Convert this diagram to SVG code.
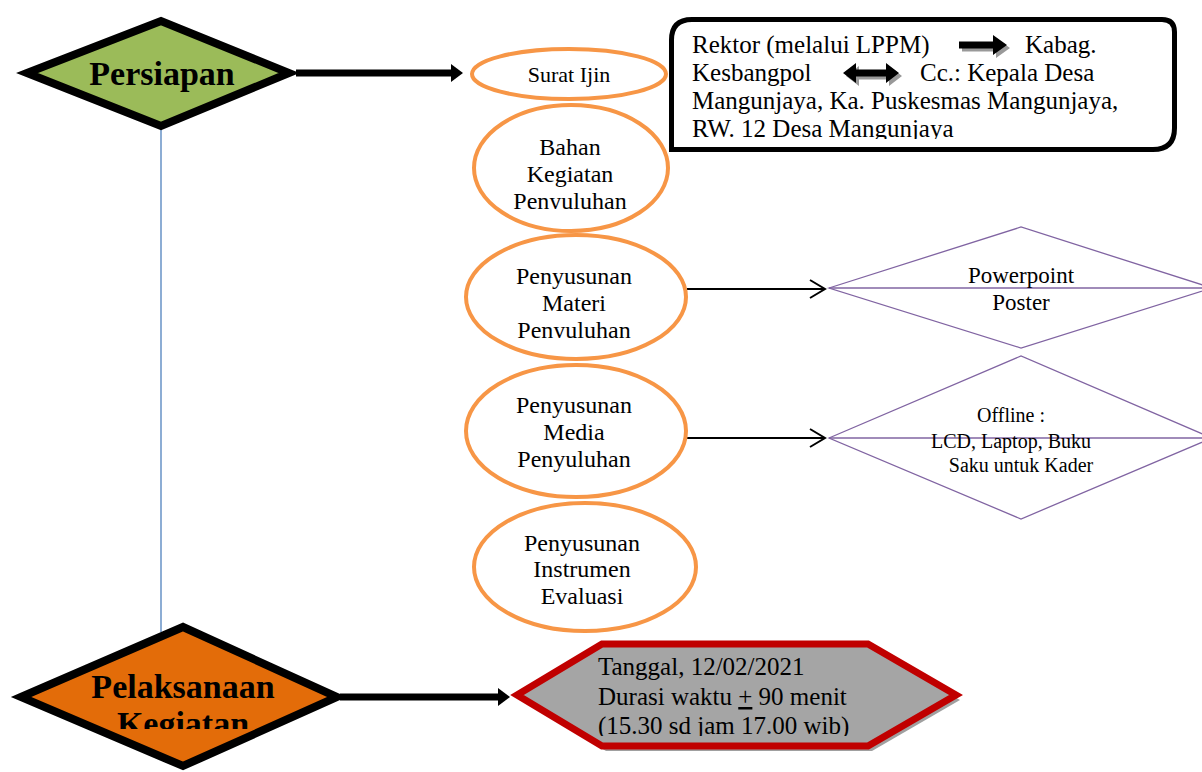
<svg xmlns="http://www.w3.org/2000/svg" width="1202" height="772" viewBox="0 0 1202 772">
<style>
.t{font-family:"Liberation Serif","Times New Roman",serif;fill:#000}
.ell{fill:#fff;stroke:#F79646;stroke-width:4}
.el{font-size:24px;text-anchor:middle}
.pur{fill:#fff;stroke:#8064A2;stroke-width:1.3}
.thick{stroke:#000;stroke-width:7;fill:none}
.thin{stroke:#000;stroke-width:2;fill:none}
.big{font-weight:bold;font-size:34px;text-anchor:middle}
</style>
<defs>
<clipPath id="cBox"><rect x="669" y="17" width="510" height="122"/></clipPath>
<clipPath id="cBahan"><rect x="470" y="100" width="210" height="109"/></clipPath>
<clipPath id="cMateri"><rect x="460" y="230" width="240" height="108"/></clipPath>
<clipPath id="cInst"><rect x="470" y="500" width="240" height="104"/></clipPath>
<clipPath id="cPel"><rect x="0" y="620" width="360" height="109"/></clipPath>
<clipPath id="cHex"><rect x="500" y="630" width="480" height="106"/></clipPath>
</defs>
<rect width="1202" height="772" fill="#fff"/>

<g id="connectors">
<line x1="161" y1="130" x2="161" y2="632" stroke="#4F81BD" stroke-width="1.3"/>
<line class="thick" x1="296" y1="73" x2="453" y2="73"/>
<polygon points="451,64 463,73 451,82" fill="#000"/>
<line class="thick" x1="340" y1="697" x2="500" y2="697"/>
<polygon points="498,688 510,697 498,706" fill="#000"/>
<line class="thin" x1="687" y1="289" x2="825" y2="289"/>
<polyline class="thin" points="810,280 825,289 810,298"/>
<line class="thin" x1="687" y1="438" x2="825" y2="438"/>
<polyline class="thin" points="810,429 825,438 810,447"/>
</g>

<g id="persiapan">
<polygon points="27,73 161,21 289,73 161,126" fill="#9BBB59" stroke="#000" stroke-width="8"/>
<text class="t big" x="162" y="85">Persiapan</text>
</g>

<g id="pelaksanaan">
<polygon points="21,697 183,627 337,697 183,766" fill="#E36C09" stroke="#000" stroke-width="8"/>
<g clip-path="url(#cPel)">
<text class="t big" x="183" y="698">Pelaksanaan</text>
<text class="t big" x="183" y="735">Kegiatan</text>
</g>
</g>

<g id="surat-ijin">
<ellipse class="ell" cx="569" cy="74" rx="97" ry="25"/>
<text class="t" x="569" y="82" font-size="22" text-anchor="middle">Surat Ijin</text>
</g>

<g id="bahan">
<ellipse class="ell" cx="571" cy="168" rx="97" ry="63"/>
<g clip-path="url(#cBahan)">
<text class="t el" x="570" y="155">Bahan</text>
<text class="t el" x="570" y="182">Kegiatan</text>
<text class="t el" x="570" y="209">Penyuluhan</text>
</g>
</g>

<g id="materi">
<ellipse class="ell" cx="576" cy="297" rx="110" ry="62"/>
<g clip-path="url(#cMateri)">
<text class="t el" x="574" y="284">Penyusunan</text>
<text class="t el" x="574" y="311">Materi</text>
<text class="t el" x="574" y="338">Penyuluhan</text>
</g>
</g>

<g id="media">
<ellipse class="ell" cx="576" cy="431" rx="110" ry="66"/>
<text class="t el" x="574" y="413">Penyusunan</text>
<text class="t el" x="574" y="440">Media</text>
<text class="t el" x="574" y="467">Penyuluhan</text>
</g>

<g id="instrumen">
<ellipse class="ell" cx="585" cy="567" rx="111" ry="64"/>
<g clip-path="url(#cInst)">
<text class="t el" x="582" y="551">Penyusunan</text>
<text class="t el" x="582" y="577">Instrumen</text>
<text class="t el" x="582" y="604">Evaluasi</text>
</g>
</g>

<g id="info-box">
<path d="M692,19.5 L1162,19.5 Q1174.5,19.5 1174.5,32 L1174.5,128 Q1174.5,149.5 1153,149.5 L671.5,149.5 L671.5,40 Q671.5,19.5 692,19.5 Z" fill="#fff" stroke="#000" stroke-width="5"/>
<polygon points="962,44.5 996,44.5 996,38 1010,48 996,58 996,51.5 962,51.5" fill="#999"/>
<polygon points="959,41.5 993,41.5 993,35 1007,45 993,55 993,48.5 959,48.5" fill="#000"/>
<polygon points="846,76 859,66 859,72.5 889,72.5 889,66 902,76 889,86 889,79.5 859,79.5 859,86" fill="#999"/>
<polygon points="843,73 856,63 856,69.5 886,69.5 886,63 899,73 886,83 886,76.5 856,76.5 856,83" fill="#000"/>
<g clip-path="url(#cBox)" class="t" font-size="25">
<text x="692" y="53">Rektor (melalui LPPM)</text>
<text x="1025" y="53">Kabag.</text>
<text x="692" y="81">Kesbangpol</text>
<text x="920" y="81">Cc.: Kepala Desa</text>
<text x="692" y="109">Mangunjaya, Ka. Puskesmas Mangunjaya,</text>
<text x="692" y="137">RW. 12 Desa Mangunjaya</text>
</g>
</g>

<g id="powerpoint">
<polygon class="pur" points="829,288 1021,227 1212,288 1021,348"/>
<line x1="829" y1="288" x2="1202" y2="288" stroke="#8064A2" stroke-width="1.3"/>
<text class="t" x="1021" y="283" font-size="23" text-anchor="middle">Powerpoint</text>
<text class="t" x="1021" y="310" font-size="23" text-anchor="middle">Poster</text>
</g>

<g id="offline">
<polygon class="pur" points="829,438 1021,356 1212,438 1021,519"/>
<line x1="829" y1="438" x2="1202" y2="438" stroke="#8064A2" stroke-width="1.3"/>
<text class="t" x="1011" y="422" font-size="20" text-anchor="middle">Offline :</text>
<text class="t" x="1011" y="448" font-size="20" text-anchor="middle">LCD, Laptop, Buku</text>
<text class="t" x="1021" y="472" font-size="20" text-anchor="middle">Saku untuk Kader</text>
</g>

<g id="jadwal">
<polygon points="521,700 606,649 872,649 960,700 872,751 606,751" fill="#A0A0A0"/>
<polygon points="517,695 602,644 868,644 956,695 868,746 602,746" fill="#A5A5A5" stroke="#C00000" stroke-width="7"/>
<g clip-path="url(#cHex)" class="t" font-size="25">
<text x="598" y="675">Tanggal, 12/02/2021</text>
<text x="598" y="705">Durasi waktu <tspan text-decoration="underline">+</tspan> 90 menit</text>
<text x="598" y="734">(15.30 sd jam 17.00 wib)</text>
</g>
</g>
</svg>
